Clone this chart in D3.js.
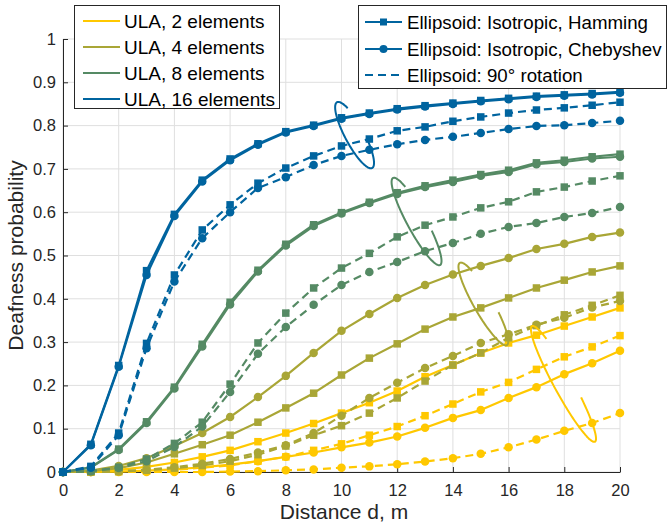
<!DOCTYPE html>
<html>
<head>
<meta charset="utf-8">
<script src="https://cdn.jsdelivr.net/npm/d3@7"></script>
<style>
  body { margin: 0; background: #fff; }
  svg { display: block; font-family: "Liberation Sans", Arial, sans-serif; }
</style>
</head>
<body>
<div class="chart"></div>
<script>
// distance axis, metres
const distances = [0,1,2,3,4,5,6,7,8,9,10,11,12,13,14,15,16,17,18,19,20];

// deafness probability
const ula2IsoHam   = [0,0.001,0.005,0.012,0.022,0.035,0.05,0.07,0.09,0.112,0.136,0.16,0.187,0.22,0.247,0.275,0.298,0.316,0.337,0.358,0.379];
const ula2IsoCheb  = [0,0,0.001,0.003,0.006,0.011,0.017,0.025,0.035,0.045,0.057,0.068,0.082,0.102,0.125,0.143,0.171,0.196,0.226,0.251,0.28];
const ula2RotHam   = [0,0,0.001,0.002,0.005,0.01,0.015,0.025,0.035,0.05,0.065,0.085,0.105,0.13,0.157,0.185,0.207,0.237,0.266,0.289,0.315];
const ula2RotCheb  = [0,0,0,0,0,0,0.001,0.002,0.004,0.006,0.01,0.013,0.018,0.024,0.032,0.042,0.057,0.075,0.095,0.113,0.136];

const ula4IsoHam   = [0,0.002,0.009,0.022,0.042,0.063,0.085,0.115,0.148,0.182,0.224,0.263,0.296,0.33,0.358,0.379,0.402,0.425,0.443,0.462,0.476];
const ula4IsoCheb  = [0,0.003,0.014,0.032,0.06,0.09,0.127,0.173,0.222,0.275,0.326,0.365,0.402,0.432,0.456,0.476,0.494,0.515,0.527,0.543,0.553];
const ula4RotHam   = [0,0,0.001,0.004,0.009,0.015,0.025,0.04,0.06,0.085,0.107,0.136,0.171,0.21,0.247,0.275,0.31,0.338,0.363,0.385,0.408];
const ula4RotCheb  = [0,0,0.002,0.005,0.011,0.019,0.03,0.045,0.062,0.09,0.13,0.171,0.206,0.24,0.268,0.298,0.318,0.34,0.356,0.38,0.395];

const ula8IsoHam   = [0,0.011,0.053,0.116,0.196,0.295,0.392,0.466,0.526,0.571,0.599,0.623,0.645,0.661,0.674,0.687,0.697,0.714,0.72,0.728,0.734];
const ula8IsoCheb  = [0,0.01,0.051,0.113,0.193,0.29,0.387,0.463,0.523,0.568,0.597,0.621,0.642,0.658,0.67,0.684,0.693,0.711,0.716,0.724,0.728];
const ula8RotHam   = [0,0.002,0.011,0.03,0.066,0.115,0.203,0.298,0.367,0.425,0.471,0.505,0.543,0.57,0.589,0.61,0.624,0.647,0.658,0.672,0.684];
const ula8RotCheb  = [0,0.002,0.009,0.025,0.058,0.105,0.185,0.273,0.335,0.386,0.432,0.462,0.485,0.51,0.529,0.55,0.566,0.575,0.589,0.598,0.612];

const ula16IsoHam  = [0,0.064,0.246,0.465,0.595,0.674,0.723,0.758,0.786,0.801,0.818,0.829,0.839,0.846,0.852,0.858,0.863,0.868,0.871,0.874,0.878];
const ula16IsoCheb = [0,0.062,0.243,0.455,0.591,0.671,0.72,0.756,0.784,0.799,0.816,0.827,0.837,0.844,0.85,0.856,0.861,0.866,0.869,0.872,0.876];
const ula16RotHam  = [0,0.013,0.09,0.297,0.455,0.559,0.617,0.667,0.702,0.73,0.753,0.769,0.788,0.797,0.81,0.82,0.829,0.836,0.841,0.847,0.854];
const ula16RotCheb = [0,0.01,0.085,0.286,0.44,0.54,0.6,0.656,0.681,0.709,0.73,0.744,0.757,0.767,0.774,0.783,0.792,0.799,0.801,0.806,0.811];

const ulaNames = ["ULA, 2 elements", "ULA, 4 elements", "ULA, 8 elements", "ULA, 16 elements"];
const ulaColors = ["#FFC800", "#A9A636", "#558A64", "#00649F"];
const methodNames = ["Ellipsoid: Isotropic, Hamming", "Ellipsoid: Isotropic, Chebyshev", "Ellipsoid: 90\u00b0 rotation"];

const xTicks = [0,2,4,6,8,10,12,14,16,18,20];
const yTicks = [0,0.1,0.2,0.3,0.4,0.5,0.6,0.7,0.8,0.9,1];

// loops drawn around each group: [top d, top p, bottom d, bottom p]
const groupLoops = [
    [16.84, 0.337, 19.1, 0.07],
    [14.25, 0.483, 15.94, 0.293],
    [11.85, 0.679, 13.54, 0.478],
    [9.84, 0.854, 11.1, 0.702]
];

const groups = [
    [ula2IsoHam, ula2IsoCheb, ula2RotHam, ula2RotCheb],
    [ula4IsoHam, ula4IsoCheb, ula4RotHam, ula4RotCheb],
    [ula8IsoHam, ula8IsoCheb, ula8RotHam, ula8RotCheb],
    [ula16IsoHam, ula16IsoCheb, ula16RotHam, ula16RotCheb]
];
// marker / dash per curve in a group
const curveKinds = [
    {marker: "square", dashed: false},
    {marker: "circle", dashed: false},
    {marker: "square", dashed: true},
    {marker: "circle", dashed: true}
];

const width = 668;
const height = 526;
const axisColor = "#262626";

const svg = d3.select(".chart")
    .append("svg")
    .attr("width", width)
    .attr("height", height);

const x = d3.scaleLinear().domain([0, 20]).range([63, 620]);
const y = d3.scaleLinear().domain([0, 1]).range([472, 39]);

// grid
svg.append("g")
    .selectAll("line")
    .data(xTicks)
    .enter()
    .append("line")
    .attr("x1", d => x(d)).attr("x2", d => x(d))
    .attr("y1", y(0)).attr("y2", y(1))
    .attr("stroke", "#dfdfdf")
    .attr("stroke-width", 1);

svg.append("g")
    .selectAll("line")
    .data(yTicks)
    .enter()
    .append("line")
    .attr("x1", x(0)).attr("x2", x(20))
    .attr("y1", d => y(d)).attr("y2", d => y(d))
    .attr("stroke", "#dfdfdf")
    .attr("stroke-width", 1);

// axes
const xAxis = svg.append("g")
    .attr("transform", `translate(0,${y(0)})`)
    .call(d3.axisBottom(x).tickValues(xTicks).tickSizeInner(-5).tickSizeOuter(0).tickPadding(12));
const yAxis = svg.append("g")
    .attr("transform", `translate(${x(0)},0)`)
    .call(d3.axisLeft(y).tickValues(yTicks).tickFormat(d3.format("~g")).tickSizeInner(-5).tickSizeOuter(0).tickPadding(7));

[xAxis, yAxis].forEach(ax => {
    ax.select(".domain").attr("stroke", axisColor).attr("stroke-width", 1);
    ax.selectAll(".tick line").attr("stroke", axisColor);
    ax.selectAll(".tick text")
        .attr("fill", axisColor)
        .style("font-size", "16.5px")
        .style("font-family", "'Liberation Sans', Arial, sans-serif");
});

svg.append("text")
    .attr("x", 344)
    .attr("y", 519)
    .attr("text-anchor", "middle")
    .attr("fill", axisColor)
    .style("font-size", "21px")
    .text("Distance d, m");

svg.append("text")
    .attr("transform", `translate(23,${(y(0) + y(1)) / 2}) rotate(-90)`)
    .attr("text-anchor", "middle")
    .attr("fill", axisColor)
    .style("font-size", "21px")
    .text("Deafness probability");

// curves
const line = d3.line()
    .x((d, i) => x(distances[i]))
    .y(d => y(d));

const drawMarkers = (g, values, kind, color, size) => {
    if (kind === "square") {
        g.selectAll("rect")
            .data(values)
            .enter()
            .append("rect")
            .attr("x", (d, i) => x(distances[i]) - size / 2)
            .attr("y", d => y(d) - size / 2)
            .attr("width", size)
            .attr("height", size)
            .attr("fill", color);
    } else {
        g.selectAll("circle")
            .data(values)
            .enter()
            .append("circle")
            .attr("cx", (d, i) => x(distances[i]))
            .attr("cy", d => y(d))
            .attr("r", size / 2 + 0.5)
            .attr("fill", color);
    }
};

groups.forEach((curves, gi) => {
    const color = ulaColors[gi];
    const g = svg.append("g");
    curves.forEach((values, ci) => {
        const kind = curveKinds[ci];
        g.append("path")
            .datum(values)
            .attr("d", line)
            .attr("fill", "none")
            .attr("stroke", color)
            .attr("stroke-width", 2.2)
            .attr("stroke-linejoin", "round")
            .attr("stroke-dasharray", kind.dashed ? "8,5" : null);
        drawMarkers(g.append("g"), values, kind.marker, color, 7.5);
    });
});

// loops around the groups
groupLoops.forEach((loop, gi) => {
    const x1 = x(loop[0]), y1 = y(loop[1]), x2 = x(loop[2]), y2 = y(loop[3]);
    const cx = (x1 + x2) / 2, cy = (y1 + y2) / 2;
    const a = Math.hypot(x2 - x1, y2 - y1) / 2;
    const b = 9.5;
    const ux = (x2 - x1) / (2 * a), uy = (y2 - y1) / (2 * a);
    const vx = -uy, vy = ux;
    const pts = d3.range(-0.4 * Math.PI, 1.25 * Math.PI, 0.04).map(t => [
        cx + a * Math.cos(t) * ux + b * Math.sin(t) * vx,
        cy + a * Math.cos(t) * uy + b * Math.sin(t) * vy
    ]);
    svg.append("path")
        .attr("d", d3.line().curve(d3.curveBasis)(pts))
        .attr("fill", "none")
        .attr("stroke", ulaColors[gi])
        .attr("stroke-width", 2);
});

// legend: array sizes
const legend1 = svg.append("g").attr("id", "legend-ula");
legend1.append("rect")
    .attr("x", 74.5).attr("y", 5.5)
    .attr("width", 205).attr("height", 103)
    .attr("fill", "#fff")
    .attr("stroke", axisColor);
const l1y = [21, 47, 73, 99];
ulaNames.forEach((name, i) => {
    legend1.append("line")
        .attr("x1", 83).attr("x2", 120)
        .attr("y1", l1y[i]).attr("y2", l1y[i])
        .attr("stroke", ulaColors[i])
        .attr("stroke-width", 2.2);
    legend1.append("text")
        .attr("x", 124)
        .attr("y", l1y[i] + 6.5)
        .attr("fill", "#000")
        .style("font-size", "19px")
        .text(name);
});

// legend: ellipsoid methods
const legend2 = svg.append("g").attr("id", "legend-method");
legend2.append("rect")
    .attr("x", 358.5).attr("y", 5.5)
    .attr("width", 308).attr("height", 83)
    .attr("fill", "#fff")
    .attr("stroke", axisColor);
const l2y = [22, 49, 75];
methodNames.forEach((name, i) => {
    const blue = ulaColors[3];
    legend2.append("line")
        .attr("x1", 365).attr("x2", 402)
        .attr("y1", l2y[i]).attr("y2", l2y[i])
        .attr("stroke", blue)
        .attr("stroke-width", 2.2)
        .attr("stroke-dasharray", i === 2 ? "8,5" : null);
    if (i === 0) {
        legend2.append("rect")
            .attr("x", 380).attr("y", l2y[i] - 3.5)
            .attr("width", 7).attr("height", 7)
            .attr("fill", blue);
    } else if (i === 1) {
        legend2.append("circle")
            .attr("cx", 383.5).attr("cy", l2y[i])
            .attr("r", 4)
            .attr("fill", blue);
    }
    legend2.append("text")
        .attr("x", 407)
        .attr("y", l2y[i] + 6.5)
        .attr("fill", "#000")
        .style("font-size", "18.7px")
        .text(name);
});
</script>
</body>
</html>
